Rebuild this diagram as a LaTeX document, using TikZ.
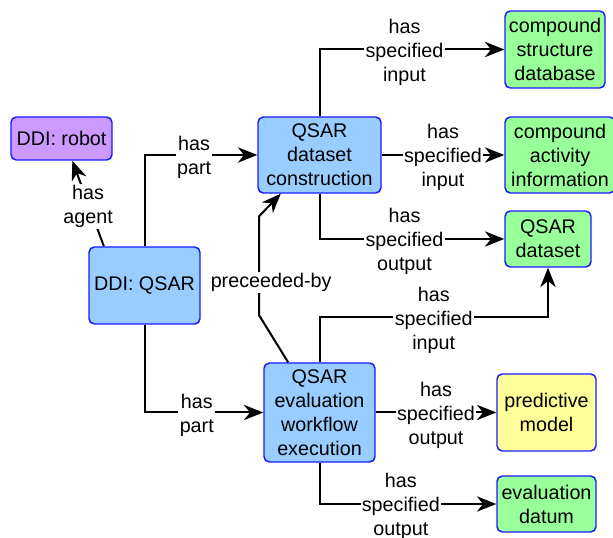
\documentclass[tikz,border=0pt]{standalone}
\usepackage{fontspec}
\setmainfont{Liberation Sans}
\usepackage{tikz}
\usetikzlibrary{positioning, arrows.meta}
\definecolor{procblue}{HTML}{99CCFF}
\definecolor{datagreen}{HTML}{99FF99}
\definecolor{modelyellow}{HTML}{FFFF99}
\definecolor{agentpurple}{HTML}{CC99FF}
\definecolor{boxborder}{HTML}{1A1AFF}
\tikzstyle{proc}=[%
      rectangle, rounded corners=4pt, draw=boxborder, line width=1.1pt, fill=procblue,
      align=center, inner sep=2pt
]
\tikzstyle{data}=[%
      rectangle, rounded corners=4pt, draw=boxborder, line width=1.1pt, fill=datagreen,
      align=center, inner sep=2pt
]
\tikzstyle{model}=[%
      rectangle, rounded corners=4pt, draw=boxborder, line width=1.1pt, fill=modelyellow,
      align=center, inner sep=2pt
]
\tikzstyle{agent}=[%
      rectangle, rounded corners=4pt, draw=boxborder, line width=1.1pt, fill=agentpurple,
      align=center, inner sep=2pt
]
\tikzstyle{lbl}=[%
      fill=white, align=center, inner sep=1pt, yshift=-2pt
]
\begin{document}
\begin{tikzpicture}[on grid,
    line width=1.5pt,
    -{Stealth[length=14.5pt,width=11.5pt,inset=4.5pt]},
    every node/.style={font=\fontsize{14.8pt}{18pt}\selectfont}
  ]
    \useasboundingbox (-108.375pt,-189.375pt) rectangle (351.375pt,214.125pt);

    \node[proc, minimum width=83.25pt, minimum height=57.75pt]  (qsar)                                  {DDI: QSAR};
    \node[agent, minimum width=75.75pt, minimum height=32.25pt] (robot) [above left = 110.25pt and 62.25pt of qsar]  {DDI: robot};
    \node[proc, minimum width=92.25pt, minimum height=57pt]     (dsc)   [above right = 97.875pt and 131.25pt of qsar] {QSAR\\dataset\\construction};
    \node[proc, minimum width=83.25pt, minimum height=74.25pt]  (ewe)   [below right = 95.25pt and 131.25pt of qsar]  {QSAR\\evaluation\\workflow\\execution};
    \node[data, minimum width=75pt, minimum height=57.75pt]     (csd)   [above right = 79.125pt and 176.625pt of dsc] {compound\\structure\\database};
    \node[data, minimum width=82.5pt, minimum height=57pt]      (cai)   [right = 180.375pt of dsc]                    {compound\\activity\\information};
    \node[data, minimum width=64.5pt, minimum height=42pt]      (qds)   [below right = 63pt and 171.375pt of dsc]     {QSAR\\dataset};
    \node[model, minimum width=74.25pt, minimum height=57.75pt] (pm)    [right = 170.25pt of ewe]                     {predictive\\model};
    \node[data, minimum width=74.25pt, minimum height=42pt]     (ed)    [below right = 68.625pt and 170.25pt of ewe]  {evaluation\\datum};

    \draw (qsar.136) -- node[lbl] {has\\agent} (robot.296);
    \draw (qsar.north) |- node[lbl, pos=0.72] {has\\part} (dsc);
    \draw (qsar.south) |- node[lbl, pos=0.72] {has\\part} (ewe);
    \draw (ewe.122) -- ++(-21.75pt,35.25pt)
          -- node[lbl, pos=0.36, xshift=9pt] {preceeded-by} ++(0,74.25pt) -- (dsc.225);

    \draw (dsc.north) |- node[lbl, pos=0.73] {has\\specified\\input} (csd);
    \draw (dsc) -- node[lbl] {has\\specified\\input} (cai);
    \draw (dsc.south) |- node[lbl, pos=0.73] {has\\specified\\output} (qds);

    \draw (ewe.north) -- ++(0,33.75pt) -| node[lbl, pos=0.25] {has\\specified\\input} (qds);
    \draw (ewe) -- node[lbl] {has\\specified\\output} (pm);
    \draw (ewe.south) |- node[lbl, pos=0.73] {has\\specified\\output} (ed);
\end{tikzpicture}
\end{document}
